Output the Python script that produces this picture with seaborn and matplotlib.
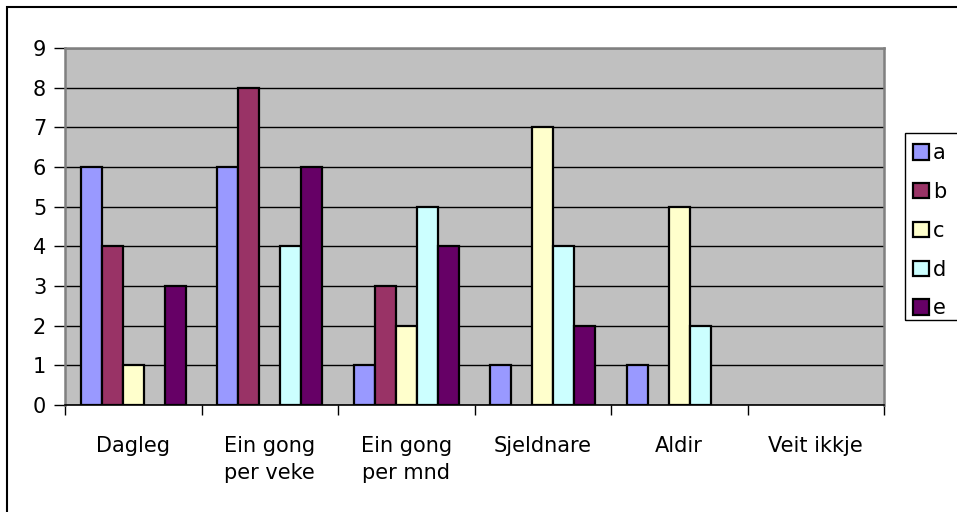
import matplotlib
matplotlib.use("Agg")
import matplotlib.pyplot as plt
import seaborn as sns
import pandas as pd
from matplotlib.patches import Rectangle

categories = ["Dagleg", "Ein gong\nper veke", "Ein gong\nper mnd", "Sjeldnare", "Aldir", "Veit ikkje"]
series = ["a", "b", "c", "d", "e"]
a = [6, 6, 1, 1, 1, 0]
b = [4, 8, 3, 0, 0, 0]
c = [1, 0, 2, 7, 5, 0]
d = [0, 4, 5, 4, 2, 0]
e = [3, 6, 4, 2, 0, 0]
colors = ["#9999FF", "#993366", "#FFFFCC", "#CCFFFF", "#660066"]

rows = []
for name, vals in zip(series, [a, b, c, d, e]):
    for cat, v in zip(categories, vals):
        rows.append({"cat": cat, "series": name, "val": v})
df = pd.DataFrame(rows)

sns.set_style("white")
plt.rcParams["font.family"] = ["DejaVu Sans"]
plt.rcParams["text.color"] = "black"
plt.rcParams["xtick.color"] = "black"
plt.rcParams["ytick.color"] = "black"
plt.rcParams["axes.labelcolor"] = "black"

W, H = 957, 512
fig = plt.figure(figsize=(W/100, H/100), dpi=100)
ax = fig.add_axes([65/W, 1-405/H, (884-65)/W, (405-48)/H])
ax.set_facecolor("#C0C0C0")

sns.barplot(data=df, x="cat", y="val", hue="series", order=categories, hue_order=series,
            palette=colors, width=0.77, edgecolor="black", linewidth=1.6, ax=ax,
            errorbar=None, zorder=3, saturation=1)

for cont in ax.containers:
    for p in cont:
        if p.get_height() == 0:
            p.set_visible(False)

ax.set_ylim(0, 9)
ax.set_xlim(-0.5, 5.5)
ax.set_yticks(range(0, 10))
ax.yaxis.grid(True, color="black", linewidth=1, zorder=1)
ax.set_axisbelow(True)
ax.set_xlabel("")
ax.set_ylabel("")
ax.tick_params(axis="y", labelsize=15, length=8, width=1, color="black", labelcolor="black", pad=5.5, left=True)
ax.tick_params(axis="x", which="major", labelsize=15, length=0, pad=22, labelcolor="black")
ax.set_xticks([i + 0.5 for i in range(-1, 6)], minor=True)
ax.tick_params(axis="x", which="minor", length=7, width=1, color="black", bottom=True)
for lbl in ax.get_xticklabels():
    lbl.set_linespacing(1.45)

for s in ["top", "right", "left"]:
    ax.spines[s].set_visible(True)
    ax.spines[s].set_color("#808080")
    ax.spines[s].set_linewidth(1.8)
ax.spines["bottom"].set_color("black")
ax.spines["bottom"].set_linewidth(1.2)

leg = ax.legend(loc="upper left", bbox_to_anchor=(907/W, 1-137/H), bbox_transform=fig.transFigure,
                frameon=False, fontsize=15,
                handlelength=0.75, handleheight=0.75, handletextpad=0.2, labelspacing=0.9,
                borderpad=0.3, borderaxespad=0)
for h in leg.legend_handles:
    h.set_edgecolor("black")
    h.set_linewidth(1.6)
    h.set_visible(True)
for t in leg.get_texts():
    t.set_color("black")

fig.patches.append(Rectangle((905/W, 1-320/H), 60/W, 187/H, transform=fig.transFigure,
                             fill=False, edgecolor="black", linewidth=1))
fig.patches.append(Rectangle((7/W, -0.1), 1.0, 1-7/H+0.1, transform=fig.transFigure,
                             fill=False, edgecolor="black", linewidth=1.5, clip_on=False))

fig.savefig("out.png", dpi=100)
